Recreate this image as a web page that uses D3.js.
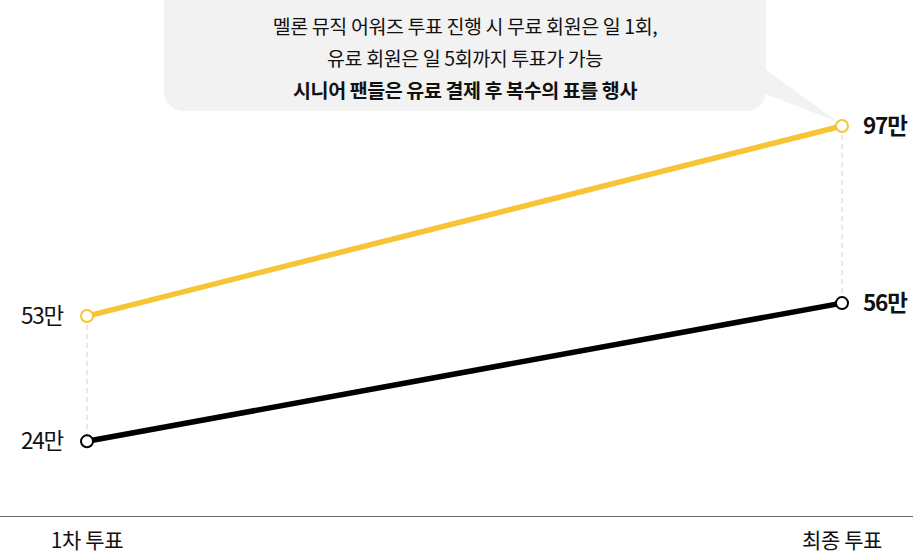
<!DOCTYPE html>
<html>
<head>
<meta charset="utf-8">
<script src="https://cdn.jsdelivr.net/npm/d3@7"></script>
<style>
  html, body { margin: 0; padding: 0; background: #fff; }
  svg { display: block; font-family: "Noto Sans CJK KR", "Noto Sans", sans-serif; }
</style>
</head>
<body>
<svg id="chart" width="913" height="553"></svg>
<script>
// Vote rounds and counts (in 만 votes)
const rounds = ["1차 투표", "최종 투표"];
const paidVotes = [53, 97];
const freeVotes = [24, 56];
const noteLines = [
  "멜론 뮤직 어워즈 투표 진행 시 무료 회원은 일 1회,",
  "유료 회원은 일 5회까지 투표가 가능",
  "시니어 팬들은 유료 결제 후 복수의 표를 행사"
];

const svg = d3.select("#chart");
const W = 913, H = 553;

const x = d3.scalePoint().domain(rounds).range([87, 842]);
const y = d3.scaleLinear().domain([0, 97]).range([545, 126]);

const series = [
  { name: "paid", values: paidVotes, color: "#f7c436" },
  { name: "free", values: freeVotes, color: "#000000" }
];

// Callout box with tail pointing at the final paid-vote point
const note = svg.append("g");
const bx0 = 164, bx1 = 766, by0 = 0, by1 = 111;
note.append("path")
  .attr("d", `M${bx1 - 5},${66} L${x(rounds[1]) - 4},${y(paidVotes[1]) - 4} L${bx1 - 5},${92} Z`)
  .attr("fill", "#f2f2f2");
note.append("rect")
  .attr("x", bx0).attr("y", by0 - 20)
  .attr("width", bx1 - bx0).attr("height", by1 - by0 + 20)
  .attr("rx", 20).attr("fill", "#f2f2f2");
note.selectAll("text").data(noteLines).join("text")
  .attr("x", 465)
  .attr("y", (d, i) => 34 + i * 32)
  .attr("text-anchor", "middle")
  .attr("font-size", 19.5)
  .attr("font-weight", (d, i) => i === 2 ? 700 : 400)
  .attr("letter-spacing", -0.4)
  .attr("fill", "#111")
  .text(d => d);

// Dashed connectors between the two series at each round
rounds.forEach((r, i) => {
  svg.append("line")
    .attr("x1", x(r)).attr("x2", x(r))
    .attr("y1", y(paidVotes[i])).attr("y2", y(freeVotes[i]))
    .attr("stroke", "#d9d9d9").attr("stroke-width", 1.2)
    .attr("stroke-dasharray", "5,4");
});

// Baseline
svg.append("line")
  .attr("x1", 0).attr("x2", W)
  .attr("y1", 516.5).attr("y2", 516.5)
  .attr("stroke", "#666").attr("stroke-width", 1);

// Lines
const line = d3.line().x((d, i) => x(rounds[i])).y(d => y(d));
series.forEach(s => {
  svg.append("path")
    .datum(s.values)
    .attr("d", line)
    .attr("fill", "none")
    .attr("stroke", s.color)
    .attr("stroke-width", 5.5);
  svg.selectAll(null).data(s.values).join("circle")
    .attr("cx", (d, i) => x(rounds[i]))
    .attr("cy", d => y(d))
    .attr("r", 6)
    .attr("fill", "#fff")
    .attr("stroke", s.color)
    .attr("stroke-width", 2);
  // Value labels
  svg.selectAll(null).data(s.values).join("text")
    .attr("x", (d, i) => i === 0 ? x(rounds[i]) - 24 : x(rounds[i]) + 21)
    .attr("y", d => y(d) + 8)
    .attr("text-anchor", (d, i) => i === 0 ? "end" : "start")
    .attr("font-size", 22.5)
    .attr("font-weight", (d, i) => i === 0 ? 400 : 700)
    .attr("letter-spacing", -1.2)
    .attr("fill", "#111")
    .text(d => d + "만");
});

// Category labels
svg.selectAll(".cat").data(rounds).join("text")
  .attr("class", "cat")
  .attr("x", d => x(d))
  .attr("y", 548)
  .attr("text-anchor", "middle")
  .attr("font-size", 21)
  .attr("letter-spacing", -0.4)
  .attr("fill", "#111")
  .text(d => d);
</script>
</body>
</html>
